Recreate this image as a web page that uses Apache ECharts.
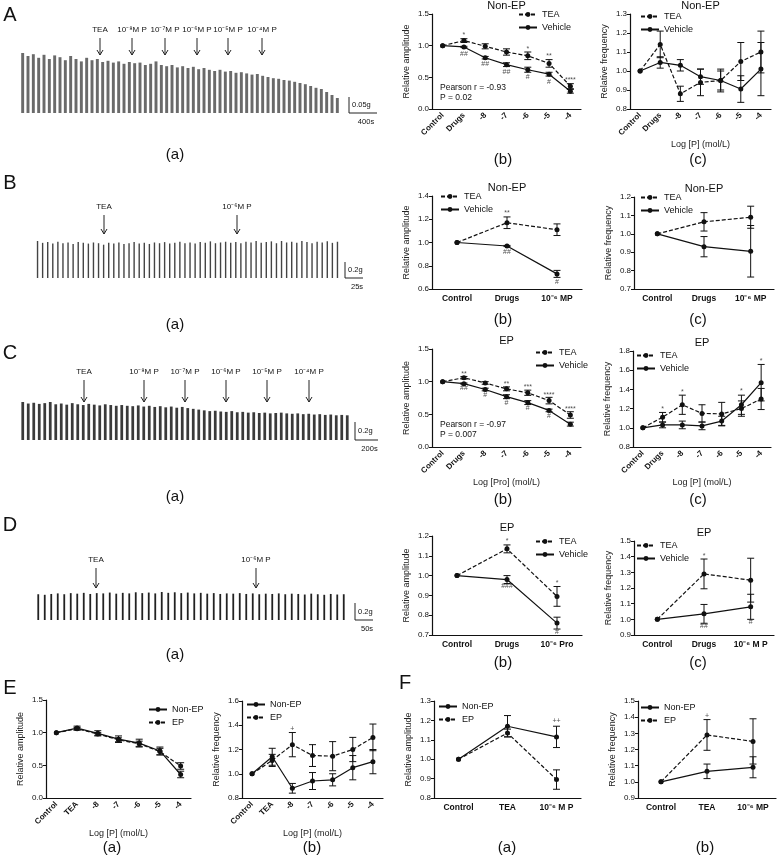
<!DOCTYPE html>
<html>
<head>
<meta charset="utf-8">
<script src="https://cdn.jsdelivr.net/npm/echarts@6/dist/echarts.min.js"></script>
<style>
  html, body { margin: 0; padding: 0; background: #fff; }
  #main { width: 777px; height: 859px; }
</style>
</head>
<body>
<div id="main"></div>
<script>
// categories
const catsDose = ["Control", "Drugs", "-8", "-7", "-6", "-5", "-4"];
const catsDoseTEA = ["Control", "TEA", "-8", "-7", "-6", "-5", "-4"];
const catsMP = ["Control", "Drugs", "10⁻⁶ MP"];
const catsMP2 = ["Control", "Drugs", "10⁻⁶ M P"];
const catsPro = ["Control", "Drugs", "10⁻⁶ Pro"];
const catsF1 = ["Control", "TEA", "10⁻⁶ M P"];
const catsF2 = ["Control", "TEA", "10⁻⁶ MP"];

// A (b) amplitude, non-EP
const aAmpTEA = [1.0, 1.08, 0.99, 0.90, 0.84, 0.72, 0.36];
const aAmpTEAerr = [0, 0.03, 0.04, 0.05, 0.06, 0.06, 0.04];
const aAmpVeh = [1.0, 0.98, 0.81, 0.70, 0.62, 0.55, 0.28];
const aAmpVehErr = [0, 0.01, 0.02, 0.03, 0.04, 0.03, 0.03];
// A (c) frequency
const aFrqTEA = [1.0, 1.14, 0.88, 0.94, 0.95, 1.05, 1.10];
const aFrqTEAerr = [0, 0.07, 0.04, 0.07, 0.06, 0.10, 0.11];
const aFrqVeh = [1.0, 1.045, 1.03, 0.97, 0.95, 0.905, 1.01];
const aFrqVehErr = [0, 0.03, 0.03, 0.04, 0.05, 0.07, 0.14];
// B
const bAmpTEA = [1.0, 1.17, 1.11];
const bAmpTEAerr = [0, 0.05, 0.05];
const bAmpVeh = [1.0, 0.97, 0.73];
const bAmpVehErr = [0, 0.005, 0.03];
const bFrqTEA = [1.0, 1.065, 1.09];
const bFrqTEAerr = [0, 0.05, 0.06];
const bFrqVeh = [1.0, 0.93, 0.905];
const bFrqVehErr = [0, 0.055, 0.14];
// C
const cAmpTEA = [1.0, 1.06, 0.98, 0.89, 0.83, 0.71, 0.49];
const cAmpTEAerr = [0, 0.02, 0.02, 0.03, 0.04, 0.05, 0.05];
const cAmpVeh = [1.0, 0.97, 0.88, 0.77, 0.68, 0.56, 0.35];
const cAmpVehErr = [0, 0.01, 0.02, 0.03, 0.03, 0.02, 0.03];
const cFrqTEA = [1.0, 1.11, 1.24, 1.15, 1.145, 1.20, 1.30];
const cFrqTEAerr = [0, 0.05, 0.10, 0.09, 0.12, 0.08, 0.11];
const cFrqVeh = [1.0, 1.03, 1.03, 1.02, 1.07, 1.24, 1.47];
const cFrqVehErr = [0, 0.03, 0.04, 0.04, 0.05, 0.10, 0.19];
// D
const dAmpTEA = [1.0, 1.135, 0.895];
const dAmpTEAerr = [0, 0.02, 0.05];
const dAmpVeh = [1.0, 0.98, 0.76];
const dAmpVehErr = [0, 0.02, 0.03];
const dFrqTEA = [1.0, 1.29, 1.25];
const dFrqTEAerr = [0, 0.095, 0.14];
const dFrqVeh = [1.0, 1.035, 1.08];
const dFrqVehErr = [0, 0.06, 0.08];
// E
const eAmpNon = [1.0, 1.07, 0.99, 0.90, 0.84, 0.72, 0.36];
const eAmpNonErr = [0, 0.03, 0.04, 0.05, 0.06, 0.06, 0.05];
const eAmpEP = [1.0, 1.06, 0.98, 0.89, 0.83, 0.71, 0.49];
const eAmpEPerr = [0, 0.02, 0.02, 0.03, 0.04, 0.05, 0.05];
const eFrqNon = [1.0, 1.14, 0.88, 0.94, 0.95, 1.05, 1.10];
const eFrqNonErr = [0, 0.07, 0.04, 0.07, 0.05, 0.10, 0.10];
const eFrqEP = [1.0, 1.11, 1.24, 1.15, 1.145, 1.20, 1.30];
const eFrqEPerr = [0, 0.05, 0.10, 0.09, 0.12, 0.10, 0.11];
// F
const fAmpNon = [1.0, 1.17, 1.115];
const fAmpNonErr = [0, 0.055, 0.055];
const fAmpEP = [1.0, 1.135, 0.895];
const fAmpEPerr = [0, 0.02, 0.05];
const fFrqNon = [1.0, 1.065, 1.09];
const fFrqNonErr = [0, 0.045, 0.065];
const fFrqEP = [1.0, 1.29, 1.25];
const fFrqEPerr = [0, 0.095, 0.14];

// contraction peaks of the raw traces (relative height)
const traceA = [1.0,0.95,0.98,0.92,0.97,0.9,0.96,0.93,0.88,0.95,0.9,0.86,0.92,0.88,0.9,0.85,0.87,0.84,0.86,0.82,
  0.85,0.83,0.84,0.8,0.82,0.86,0.8,0.78,0.8,0.76,0.78,0.75,0.77,0.73,0.75,0.72,0.7,0.72,0.69,0.7,
  0.67,0.68,0.66,0.64,0.65,0.62,0.6,0.58,0.57,0.55,0.54,0.52,0.5,0.48,0.45,0.42,0.4,0.35,0.3,0.25];
const traceB = [1.0,0.95,0.97,0.93,0.98,0.94,0.96,0.92,0.97,0.95,0.93,0.96,0.94,0.9,0.95,0.93,0.96,0.92,0.94,0.97,
  0.93,0.95,0.92,0.96,0.94,0.97,0.93,0.95,0.98,0.94,0.96,0.93,0.97,0.95,0.99,0.94,0.96,0.98,0.95,0.97,
  0.94,0.98,0.96,1.0,0.95,0.97,0.99,0.94,1.0,0.96,0.98,0.95,1.0,0.97,0.94,0.98,0.96,0.99,0.95,0.98];
const traceC = [1.0,0.96,0.98,0.95,0.97,1.0,0.94,0.96,0.93,0.97,0.94,0.92,0.95,0.93,0.91,0.94,0.92,0.9,0.92,0.9,
  0.89,0.91,0.88,0.9,0.87,0.89,0.86,0.88,0.85,0.87,0.84,0.82,0.8,0.78,0.76,0.77,0.75,0.74,0.76,0.73,
  0.74,0.72,0.73,0.71,0.72,0.7,0.71,0.72,0.7,0.69,0.7,0.68,0.69,0.67,0.68,0.66,0.67,0.65,0.66,0.65];
const traceD = [0.92,0.9,0.93,0.95,0.92,0.96,0.94,0.97,0.93,0.96,0.95,0.98,0.94,0.97,0.95,0.99,0.96,0.98,0.95,1.0,
  0.97,0.99,0.96,0.98,0.95,0.97,0.94,0.96,0.93,0.95,0.94,0.96,0.93,0.95,0.92,0.94,0.93,0.95,0.92,0.94,
  0.93,0.91,0.94,0.92,0.9,0.93,0.91,0.92];

const chart = echarts.init(document.getElementById("main"));
const grids = [], xAxes = [], yAxes = [], series = [], legends = [], graphics = [];
const F = "Arial, Liberation Sans, sans-serif";

function txt(x, y, text, size, extra) {
  graphics.push(Object.assign({
    type: "text", x: x, y: y,
    style: Object.assign({ text: text, font: (size || 10) + "px " + F, fill: "#111", textAlign: "center", textVerticalAlign: "middle" }, extra || {})
  }));
}

function panel(o) {
  const gi = grids.length;
  grids.push({ left: o.left, top: o.top, width: o.width, height: o.height });
  xAxes.push({
    type: "category", gridIndex: gi, data: o.cats, boundaryGap: true,
    name: o.xName || "", nameLocation: "middle", nameGap: o.xNameGap || 32,
    nameTextStyle: { fontSize: 9, fontFamily: F, color: "#222" },
    axisLine: { lineStyle: { color: "#111", width: 1.2 } },
    axisTick: { alignWithLabel: true, length: 3, lineStyle: { color: "#111" } },
    axisLabel: { fontSize: o.rotate ? 8 : 8.5, fontWeight: "bold", color: "#111", rotate: o.rotate || 0, margin: 5, interval: 0, fontFamily: F }
  });
  yAxes.push({
    type: "value", gridIndex: gi, min: o.yMin, max: o.yMax, interval: o.yInt,
    name: o.yName, nameLocation: "middle", nameGap: 21,
    nameTextStyle: { fontSize: 9, fontFamily: F, color: "#222" },
    axisLine: { show: true, lineStyle: { color: "#111", width: 1.2 } },
    axisTick: { show: true, length: 3, lineStyle: { color: "#111" } },
    splitLine: { show: false },
    axisLabel: { fontSize: 8, color: "#111", margin: 3, fontFamily: F, formatter: v => v.toFixed(1) }
  });
  o.series.forEach(s => {
    series.push({
      type: "line", name: s.name, xAxisIndex: gi, yAxisIndex: gi, data: s.vals,
      symbol: "circle", symbolSize: 5, itemStyle: { color: "#111" },
      lineStyle: { color: "#111", width: 1.2, type: s.dash ? [4, 2] : "solid" }, z: 3
    });
    series.push({
      type: "custom", xAxisIndex: gi, yAxisIndex: gi, silent: true,
      data: s.vals.map((v, i) => [i, v, s.errs[i]]),
      renderItem: function (params, api) {
        const e = api.value(2);
        if (!e) return null;
        const hi = api.coord([api.value(0), api.value(1) + e]);
        const lo = api.coord([api.value(0), api.value(1) - e]);
        const w = 3.5, st = { stroke: "#111", lineWidth: 1 };
        return { type: "group", children: [
          { type: "line", shape: { x1: hi[0], y1: hi[1], x2: lo[0], y2: lo[1] }, style: st },
          { type: "line", shape: { x1: hi[0] - w, y1: hi[1], x2: hi[0] + w, y2: hi[1] }, style: st },
          { type: "line", shape: { x1: lo[0] - w, y1: lo[1], x2: lo[0] + w, y2: lo[1] }, style: st }
        ] };
      }, z: 2
    });
  });
  if (o.annots) {
    series.push({
      type: "scatter", xAxisIndex: gi, yAxisIndex: gi, symbolSize: 0, silent: true,
      data: o.annots,
      label: { show: true, position: "inside", formatter: p => p.data[2], fontSize: 7, color: "#222", fontFamily: F }
    });
  }
  legends.push({
    data: o.series.map(s => s.name), left: o.legend[0], top: o.legend[1], orient: "vertical",
    itemWidth: 18, itemHeight: 6, itemGap: 4, padding: 0,
    textStyle: { fontSize: 9, fontFamily: F, color: "#111" }
  });
  if (o.title) txt(o.left + o.width / 2, o.top - 8, o.title, 11);
}

function trace(left, top, width, height, peaks, fill, bw) {
  const gi = grids.length;
  grids.push({ left: left, top: top, width: width, height: height });
  xAxes.push({ type: "category", gridIndex: gi, show: false, data: peaks.map((v, i) => i) });
  yAxes.push({ type: "value", gridIndex: gi, show: false, min: 0, max: 1 });
  series.push({ type: "bar", xAxisIndex: gi, yAxisIndex: gi, data: peaks, barWidth: bw, silent: true,
    itemStyle: { color: fill } });
}

function arrow(x, y1, y2, label) {
  graphics.push({ type: "line", shape: { x1: x, y1: y1, x2: x, y2: y2 }, style: { stroke: "#222", lineWidth: 1 } });
  graphics.push({ type: "polyline", shape: { points: [[x - 3, y2 - 5], [x, y2], [x + 3, y2 - 5]] }, style: { stroke: "#222", lineWidth: 1, fill: null } });
  txt(x, y1 - 8, label, 8);
}

function scalebar(x, y1, y2, x2, l1, l2) {
  graphics.push({ type: "polyline", shape: { points: [[x, y1], [x, y2], [x2, y2]] }, style: { stroke: "#222", lineWidth: 1, fill: null } });
  txt(x + 3, (y1 + y2) / 2, l1, 7.5, { textAlign: "left" });
  txt((x + x2) / 2 + 3, y2 + 9, l2, 7.5);
}

// row A
trace(20, 53, 320, 60, traceA, "#6a6a6a", "55%");
arrow(100, 38, 55, "TEA"); arrow(132, 38, 55, "10⁻⁸M P"); arrow(165, 38, 55, "10⁻⁷M P");
arrow(197, 38, 55, "10⁻⁶M P"); arrow(228, 38, 55, "10⁻⁵M P"); arrow(262, 38, 55, "10⁻⁴M P");
scalebar(349, 97, 113, 377, "0.05g", "400s");
panel({ left: 432, top: 14, width: 149, height: 95, cats: catsDose, rotate: 45, yMin: 0, yMax: 1.5, yInt: 0.5,
  yName: "Relative amplitude", title: "Non-EP", legend: [518, 10],
  series: [{ name: "TEA", vals: aAmpTEA, errs: aAmpTEAerr, dash: true }, { name: "Vehicle", vals: aAmpVeh, errs: aAmpVehErr }],
  annots: [[1, 1.17, "*"], [4, 0.95, "*"], [5, 0.83, "**"], [6, 0.46, "****"],
    [1, 0.87, "##"], [2, 0.71, "##"], [3, 0.59, "##"], [4, 0.50, "#"], [5, 0.43, "#"]] });
txt(440, 88, "Pearson r = -0.93", 8.5, { textAlign: "left" });
txt(440, 98, "P = 0.02", 8.5, { textAlign: "left" });
panel({ left: 630, top: 14, width: 141, height: 95, cats: catsDose, rotate: 45, yMin: 0.8, yMax: 1.3, yInt: 0.1,
  yName: "Relative frequency", title: "Non-EP", legend: [640, 12], xName: "Log [P] (mol/L)", xNameGap: 31,
  series: [{ name: "TEA", vals: aFrqTEA, errs: aFrqTEAerr, dash: true }, { name: "Vehicle", vals: aFrqVeh, errs: aFrqVehErr }] });
txt(175, 155, "(a)", 15); txt(503, 160, "(b)", 15); txt(698, 160, "(c)", 15);

// row B
trace(35, 241, 305, 37, traceB, "#444", 1.4);
arrow(104, 215, 234, "TEA"); arrow(237, 215, 234, "10⁻⁶M P");
scalebar(345, 262, 278, 363, "0.2g", "25s");
panel({ left: 432, top: 196, width: 150, height: 93, cats: catsMP, yMin: 0.6, yMax: 1.4, yInt: 0.2,
  yName: "Relative amplitude", title: "Non-EP", legend: [440, 192],
  series: [{ name: "TEA", vals: bAmpTEA, errs: bAmpTEAerr, dash: true }, { name: "Vehicle", vals: bAmpVeh, errs: bAmpVehErr }],
  annots: [[1, 1.25, "**"], [1, 0.92, "##"], [2, 0.66, "#"]] });
panel({ left: 634, top: 197, width: 140, height: 92, cats: catsMP, yMin: 0.7, yMax: 1.2, yInt: 0.1,
  yName: "Relative frequency", title: "Non-EP", legend: [640, 193],
  series: [{ name: "TEA", vals: bFrqTEA, errs: bFrqTEAerr, dash: true }, { name: "Vehicle", vals: bFrqVeh, errs: bFrqVehErr }] });
txt(175, 325, "(a)", 15); txt(503, 320, "(b)", 15); txt(698, 320, "(c)", 15);

// row C
trace(20, 402, 330, 38, traceC, "#3a3a3a", "50%");
arrow(84, 380, 402, "TEA"); arrow(144, 380, 402, "10⁻⁸M P"); arrow(185, 380, 402, "10⁻⁷M P");
arrow(226, 380, 402, "10⁻⁶M P"); arrow(267, 380, 402, "10⁻⁵M P"); arrow(309, 380, 402, "10⁻⁴M P");
scalebar(355, 422, 440, 378, "0.2g", "200s");
panel({ left: 432, top: 349, width: 149, height: 98, cats: catsDose, rotate: 45, yMin: 0, yMax: 1.5, yInt: 0.5,
  yName: "Relative amplitude", title: "EP", legend: [535, 348], xName: "Log [Pro] (mol/L)", xNameGap: 31,
  series: [{ name: "TEA", vals: cAmpTEA, errs: cAmpTEAerr, dash: true }, { name: "Vehicle", vals: cAmpVeh, errs: cAmpVehErr }],
  annots: [[1, 1.12, "**"], [3, 0.96, "**"], [4, 0.91, "***"], [5, 0.80, "****"], [6, 0.58, "****"],
    [1, 0.9, "##"], [2, 0.8, "#"], [3, 0.68, "#"], [4, 0.59, "#"], [5, 0.48, "#"]] });
txt(440, 425, "Pearson r = -0.97", 8.5, { textAlign: "left" });
txt(440, 435, "P = 0.007", 8.5, { textAlign: "left" });
panel({ left: 633, top: 351, width: 138, height: 96, cats: catsDose, rotate: 45, yMin: 0.8, yMax: 1.8, yInt: 0.2,
  yName: "Relative frequency", title: "EP", legend: [636, 351], xName: "Log [P] (mol/L)", xNameGap: 31,
  series: [{ name: "TEA", vals: cFrqTEA, errs: cFrqTEAerr, dash: true }, { name: "Vehicle", vals: cFrqVeh, errs: cFrqVehErr }],
  annots: [[1, 1.2, "*"], [2, 1.37, "*"], [5, 1.38, "*"], [6, 1.7, "*"]] });
txt(175, 497, "(a)", 15); txt(503, 500, "(b)", 15); txt(698, 500, "(c)", 15);

// row D
trace(35, 592, 312, 28, traceD, "#222", 1.8);
arrow(96, 568, 588, "TEA"); arrow(256, 568, 588, "10⁻⁶M P");
scalebar(355, 603, 620, 373, "0.2g", "50s");
panel({ left: 432, top: 536, width: 150, height: 99, cats: catsPro, yMin: 0.7, yMax: 1.2, yInt: 0.1,
  yName: "Relative amplitude", title: "EP", legend: [535, 537],
  series: [{ name: "TEA", vals: dAmpTEA, errs: dAmpTEAerr, dash: true }, { name: "Vehicle", vals: dAmpVeh, errs: dAmpVehErr }],
  annots: [[1, 1.175, "*"], [2, 0.96, "*"], [1, 0.945, "###"], [2, 0.715, "#"]] });
panel({ left: 634, top: 541, width: 140, height: 94, cats: catsMP2, yMin: 0.9, yMax: 1.5, yInt: 0.1,
  yName: "Relative frequency", title: "EP", legend: [636, 541],
  series: [{ name: "TEA", vals: dFrqTEA, errs: dFrqTEAerr, dash: true }, { name: "Vehicle", vals: dFrqVeh, errs: dFrqVehErr }],
  annots: [[1, 1.405, "*"], [1, 0.96, "##"], [2, 0.985, "#"]] });
txt(175, 655, "(a)", 15); txt(503, 663, "(b)", 15); txt(698, 663, "(c)", 15);

// row E
panel({ left: 46, top: 700, width: 145, height: 98, cats: catsDoseTEA, rotate: 45, yMin: 0, yMax: 1.5, yInt: 0.5,
  yName: "Relative amplitude", legend: [148, 705], xName: "Log [P] (mol/L)", xNameGap: 31,
  series: [{ name: "Non-EP", vals: eAmpNon, errs: eAmpNonErr }, { name: "EP", vals: eAmpEP, errs: eAmpEPerr, dash: true }] });
panel({ left: 242, top: 701, width: 141, height: 97, cats: catsDoseTEA, rotate: 45, yMin: 0.8, yMax: 1.6, yInt: 0.2,
  yName: "Relative frequency", legend: [246, 700], xName: "Log [P] (mol/L)", xNameGap: 31,
  series: [{ name: "Non-EP", vals: eFrqNon, errs: eFrqNonErr }, { name: "EP", vals: eFrqEP, errs: eFrqEPerr, dash: true }],
  annots: [[2, 1.37, "+"]] });
txt(112, 848, "(a)", 15); txt(312, 848, "(b)", 15);

// row F
panel({ left: 434, top: 701, width: 147, height: 97, cats: catsF1, yMin: 0.8, yMax: 1.3, yInt: 0.1,
  yName: "Relative amplitude", legend: [438, 702],
  series: [{ name: "Non-EP", vals: fAmpNon, errs: fAmpNonErr }, { name: "EP", vals: fAmpEP, errs: fAmpEPerr, dash: true }],
  annots: [[2, 1.195, "++"]] });
panel({ left: 638, top: 701, width: 138, height: 97, cats: catsF2, yMin: 0.9, yMax: 1.5, yInt: 0.1,
  yName: "Relative frequency", legend: [640, 703],
  series: [{ name: "Non-EP", vals: fFrqNon, errs: fFrqNonErr }, { name: "EP", vals: fFrqEP, errs: fFrqEPerr, dash: true }],
  annots: [[1, 1.405, "+"]] });
txt(507, 848, "(a)", 15); txt(705, 848, "(b)", 15);

// row letters
txt(10, 15, "A", 20); txt(10, 183, "B", 20); txt(10, 353, "C", 20);
txt(10, 525, "D", 20); txt(10, 688, "E", 20); txt(405, 683, "F", 20);

chart.setOption({
  animation: false,
  grid: grids, xAxis: xAxes, yAxis: yAxes, legend: legends, series: series,
  graphic: graphics
});
</script>
</body>
</html>
